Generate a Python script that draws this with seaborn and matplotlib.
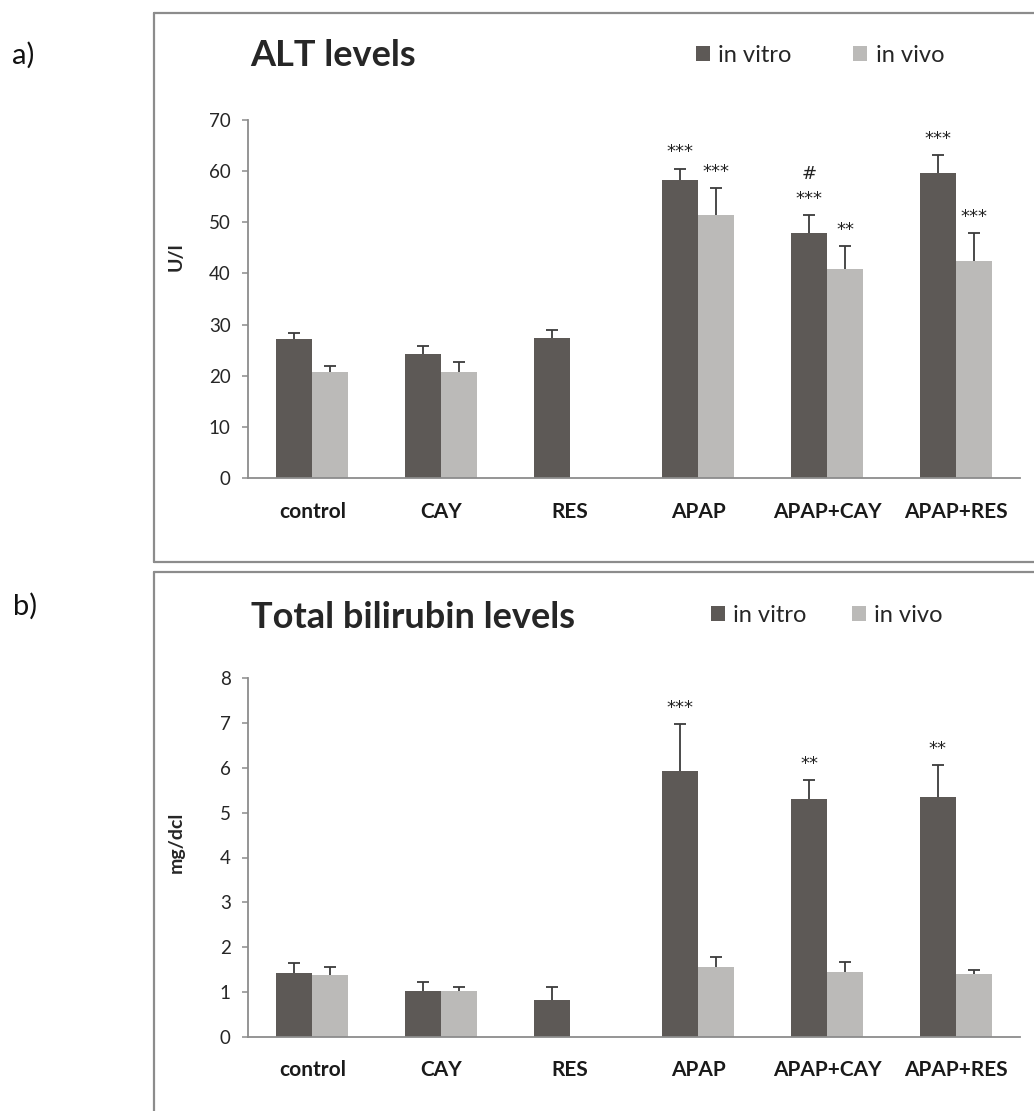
import numpy as np
import pandas as pd
import matplotlib
matplotlib.use("Agg")
import matplotlib.pyplot as plt
from matplotlib.lines import Line2D
from matplotlib.patches import Patch
from matplotlib.container import BarContainer
import seaborn as sns

# ---------------- data ----------------
groups = ["control", "CAY", "RES", "APAP", "APAP+CAY", "APAP+RES"]
conditions = ["in vitro", "in vivo"]

alt_vitro = [27.2, 24.3, 27.4, 58.3, 48.0, 59.7]
alt_vitro_err = [1.2, 1.6, 1.6, 2.2, 3.5, 3.5]
alt_vivo = [20.7, 20.8, np.nan, 51.5, 40.8, 42.5]
alt_vivo_err = [1.2, 1.8, np.nan, 5.2, 4.6, 5.4]
alt_vitro_sig = ["", "", "", "***", "***", "***"]
alt_vitro_hash = ["", "", "", "", "#", ""]
alt_vivo_sig = ["", "", "", "***", "**", "***"]

bil_vitro = [1.42, 1.01, 0.82, 5.93, 5.31, 5.34]
bil_vitro_err = [0.23, 0.21, 0.30, 1.05, 0.41, 0.73]
bil_vivo = [1.37, 1.01, np.nan, 1.56, 1.44, 1.39]
bil_vivo_err = [0.19, 0.11, np.nan, 0.21, 0.23, 0.11]
bil_vitro_sig = ["", "", "", "***", "**", "**"]
bil_vitro_hash = ["", "", "", "", "", ""]
bil_vivo_sig = ["", "", "", "", "", ""]

alt_ticks = [0, 10, 20, 30, 40, 50, 60, 70]
bil_ticks = [0, 1, 2, 3, 4, 5, 6, 7, 8]

# ---------------- style ----------------
sns.set_style("white")
plt.rcParams["font.family"] = ["Lato", "DejaVu Sans"]

DARK = "#5d5956"
LIGHT = "#bbbab8"
AXC = "#8c8c8c"
ERRC = "#3c3c3c"

W, H = 1034, 1111
fig = plt.figure(figsize=(W / 100, H / 100), dpi=100)


def fx(px):
    return px / W


def fy(py):
    return 1 - py / H


def draw_panel(ax, vitro, vitro_err, vivo, vivo_err, vsig, vhash, vvsig, ticks):
    df = pd.DataFrame({
        "group": groups * 2,
        "condition": [conditions[0]] * len(groups) + [conditions[1]] * len(groups),
        "value": list(vitro) + list(vivo),
    })
    sns.barplot(data=df, x="group", y="value", hue="condition", order=groups,
                hue_order=conditions, palette=[DARK, LIGHT], width=0.56,
                errorbar=None, saturation=1, ax=ax, legend=False, linewidth=0)
    errs = [vitro_err, vivo_err]
    sigs = [vsig, vvsig]
    hashes = [vhash, [""] * len(groups)]
    bar_conts = [c for c in ax.containers if isinstance(c, BarContainer)]
    for k, cont in enumerate(bar_conts):
        xs, ys, es = [], [], []
        for bar in cont.patches:
            if bar is None:
                continue
            h = bar.get_height()
            if not np.isfinite(h):
                continue
            xc = bar.get_x() + bar.get_width() / 2
            ci = int(round(xc))
            xs.append(xc)
            ys.append(h)
            es.append(errs[k][ci])
            top = h + errs[k][ci]
            if sigs[k][ci]:
                ax.annotate(sigs[k][ci], xy=(xc, top), xytext=(0, 8),
                            textcoords="offset points", ha="center", va="baseline",
                            fontsize=13, color="#222222", family="DejaVu Sans")
            if hashes[k][ci]:
                ax.annotate(hashes[k][ci], xy=(xc, top), xytext=(0, 26),
                            textcoords="offset points", ha="center", va="baseline",
                            fontsize=13, color="#222222", family="DejaVu Sans")
        eb = ax.errorbar(xs, ys, yerr=[np.zeros(len(es)), es], fmt="none",
                         ecolor=ERRC, elinewidth=1.3, capsize=4, capthick=1.3, zorder=5)
        # hide the caps that sit on the bar tops (zero-length lower error)
        for cl in eb[1]:
            yd = np.asarray(cl.get_ydata(), dtype=float)
            if len(yd) == len(ys) and np.allclose(yd, ys):
                cl.set_visible(False)
    ax.set_xlim(-0.5, len(groups) - 0.5)
    ax.set_ylim(ticks[0], ticks[-1])
    ax.set_yticks(ticks)
    ax.set_xlabel("")
    ax.set_ylabel("")
    for s in ["top", "right"]:
        ax.spines[s].set_visible(False)
    for s in ["left", "bottom"]:
        ax.spines[s].set_color(AXC)
        ax.spines[s].set_linewidth(1.3)
    ax.tick_params(axis="y", direction="out", length=4.5, width=1.1, color=AXC,
                   labelsize=13.5, labelcolor="#262626", pad=8, left=True)
    ax.tick_params(axis="x", length=0, pad=17, labelsize=15, labelcolor="#1a1a1a")
    for lab in ax.get_xticklabels():
        lab.set_fontweight("bold")
    ax.set_facecolor("none")


# ---------------- panel a ----------------
ax1 = fig.add_axes([fx(248), fy(478), fx(1020) - fx(248), fy(120) - fy(478)])
draw_panel(ax1, alt_vitro, alt_vitro_err, alt_vivo, alt_vivo_err,
           alt_vitro_sig, alt_vitro_hash, alt_vivo_sig, alt_ticks)

# ---------------- panel b ----------------
ax2 = fig.add_axes([fx(248), fy(1036.7), fx(1020) - fx(248), fy(678.3) - fy(1036.7)])
draw_panel(ax2, bil_vitro, bil_vitro_err, bil_vivo, bil_vivo_err,
           bil_vitro_sig, bil_vitro_hash, bil_vivo_sig, bil_ticks)

# ---------------- boxes ----------------
lw_box = 1.6
for (x0, y0, x1, y1) in [(154, 13, 1040, 13), (154, 13, 154, 562), (154, 562, 1040, 562),
                         (154, 572, 1040, 572), (154, 572, 154, 1120)]:
    fig.add_artist(Line2D([fx(x0), fx(x1)], [fy(y0), fy(y1)], color=AXC, lw=lw_box,
                          transform=fig.transFigure))

# ---------------- texts ----------------
fig.text(fx(12), fy(55), "a)", fontsize=21, va="center", ha="left", color="#111111")
fig.text(fx(13), fy(606), "b)", fontsize=21, va="center", ha="left", color="#111111")
fig.text(fx(250), fy(55), "ALT levels", fontsize=26, fontweight="bold", va="center", ha="left")
fig.text(fx(251), fy(617), "Total bilirubin levels", fontsize=26, fontweight="bold",
         va="center", ha="left")
fig.text(fx(176), fy(257), "U/l", fontsize=14, fontweight="bold", rotation=90,
         va="center", ha="center")
fig.text(fx(176), fy(842), "mg/dcl", fontsize=14, fontweight="bold", rotation=90,
         va="center", ha="center")

# legends
handles = [Patch(facecolor=DARK, edgecolor="none"), Patch(facecolor=LIGHT, edgecolor="none")]
fig.legend(handles, conditions, ncol=2, loc="center left",
           bbox_to_anchor=(fx(696), fy(55)), frameon=False, fontsize=17,
           handlelength=0.6, handleheight=0.6, handletextpad=0.35,
           columnspacing=2.6, borderpad=0, borderaxespad=0)
fig.legend(handles, conditions, ncol=2, loc="center left",
           bbox_to_anchor=(fx(711), fy(615)), frameon=False, fontsize=17,
           handlelength=0.6, handleheight=0.6, handletextpad=0.35,
           columnspacing=1.9, borderpad=0, borderaxespad=0)

fig.savefig("out.png", dpi=100)
